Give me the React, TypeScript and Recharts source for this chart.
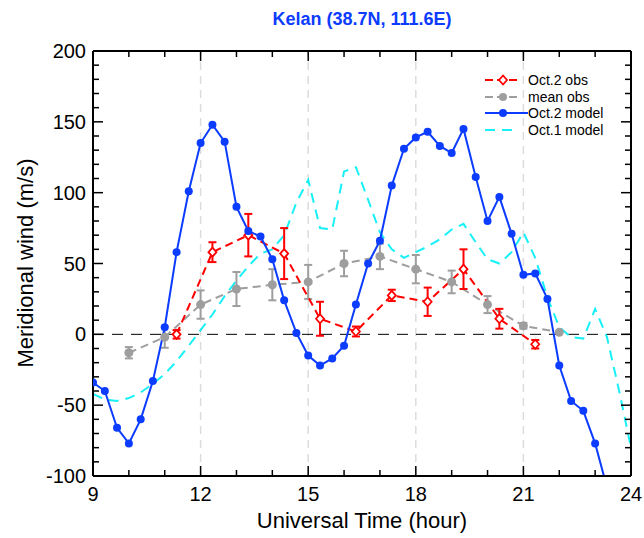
import React from 'react';
import { LineChart, Line, XAxis, YAxis, ReferenceLine, ErrorBar } from 'recharts';

// Oct.2 model (20-min output)
const modelHours = [9, 9.33, 9.67, 10, 10.33, 10.67, 11, 11.33, 11.67, 12, 12.33, 12.67, 13, 13.33, 13.67, 14, 14.33, 14.67, 15, 15.33, 15.67, 16, 16.33, 16.67, 17, 17.33, 17.67, 18, 18.33, 18.67, 19, 19.33, 19.67, 20, 20.33, 20.67, 21, 21.33, 21.67, 22, 22.33, 22.67, 23, 23.33];
const oct2Model = [-34, -40, -66, -77, -60, -33, 5, 58, 101, 135, 148, 136, 90, 73, 69, 53, 24, 1, -15, -22, -17, -8, 21, 50, 66, 105, 131, 139, 143, 133, 128, 145, 111, 80, 97, 71, 42, 43, 25, -22, -47, -54, -77, -108];

// Oct.1 model
const oct1Hours = [9, 9.33, 9.67, 10, 10.33, 10.67, 11, 11.33, 11.67, 12, 12.33, 12.67, 13, 13.33, 13.67, 14, 14.33, 14.67, 15, 15.33, 15.67, 16, 16.33, 16.67, 17, 17.33, 17.67, 18, 18.33, 18.67, 19, 19.33, 19.67, 20, 20.33, 20.67, 21, 21.33, 21.67, 22, 22.33, 22.67, 23, 23.33, 23.67, 24];
const oct1Model = [-42, -46, -47, -45, -41, -35, -28, -19, -8, 3, 14, 27, 38, 48, 57, 60, 70, 93, 109, 75, 74, 115, 118, 95, 72, 60, 54, 58, 62, 67, 74, 78, 65, 53, 50, 58, 72, 54, 26, 5, -2, -3, 18, -2, -40, -80];

// Oct.2 observations
const obsHours = [11.33, 12.33, 13.33, 14.33, 15.33, 16.33, 17.33, 18.33, 19.33, 20.33, 21.33];
const oct2Obs = [0, 58, 70, 57, 11, 2, 27.5, 23, 46, 11, -7];
const oct2Err = [3, 7, 15, 18, 12, 3.5, 4, 10, 14, 7, 3];

// mean observations
const meanHours = [10, 11, 12, 13, 14, 15, 16, 17, 18, 19, 20, 21, 22];
const meanObs = [-13, -2, 21, 32, 35, 37, 50, 55, 46, 37, 21, 6, 1.5];
const meanErr = [4, 7.5, 10, 12, 11, 12, 9, 9, 10, 8, 6, 2, 0];

const xTicks = [9, 10, 11, 12, 13, 14, 15, 16, 17, 18, 19, 20, 21, 22, 23, 24];
const yTicks = [-100, -90, -80, -70, -60, -50, -40, -30, -20, -10, 0, 10, 20, 30, 40, 50, 60, 70, 80, 90, 100, 110, 120, 130, 140, 150, 160, 170, 180, 190, 200];
const gridHours = [12, 15, 18, 21];

const FONT = '"Liberation Sans", Arial, Helvetica, sans-serif';
const BLUE = '#0b3cff';
const RED = '#ff0000';
const GRAY = '#9e9e9e';
const CYAN = '#18f0f8';

const modelData = modelHours.map((t, i) => ({ t, v: oct2Model[i] }));
const oct1Data = oct1Hours.map((t, i) => ({ t, v: oct1Model[i] }));
const obsData = obsHours.map((t, i) => ({ t, v: oct2Obs[i], e: oct2Err[i] }));
const meanData = meanHours.map((t, i) => ({ t, v: meanObs[i], e: meanErr[i] }));

const BottomTick = (props: any) => {
  const { x, y, payload } = props;
  const major = payload.value % 3 === 0;
  return (
    <g>
      <line x1={x} y1={y} x2={x} y2={y - (major ? 10 : 6)} stroke="#000" strokeWidth={1.5} />
      {major && (
        <text x={x} y={y + 25} textAnchor="middle" fontSize={20} fontFamily={FONT} fill="#000">{payload.value}</text>
      )}
    </g>
  );
};

const TopTick = (props: any) => {
  const { x, y, payload } = props;
  const major = payload.value % 3 === 0;
  return <line x1={x} y1={y} x2={x} y2={y + (major ? 10 : 6)} stroke="#000" strokeWidth={1.5} />;
};

const LeftTick = (props: any) => {
  const { x, y, payload } = props;
  const major = payload.value % 50 === 0;
  return (
    <g>
      <line x1={x} y1={y} x2={x + (major ? 10 : 6)} y2={y} stroke="#000" strokeWidth={1.5} />
      {major && (
        <text x={x - 7} y={y + 7} textAnchor="end" fontSize={20} fontFamily={FONT} fill="#000">{payload.value}</text>
      )}
    </g>
  );
};

const RightTick = (props: any) => {
  const { x, y, payload } = props;
  const major = payload.value % 50 === 0;
  return <line x1={x} y1={y} x2={x - (major ? 10 : 6)} y2={y} stroke="#000" strokeWidth={1.5} />;
};

const Diamond = (props: any) => {
  const { cx, cy, index } = props;
  if (cx == null || cy == null) return <g key={`d-${index}`} />;
  return (
    <path key={`d-${index}`} d={`M${cx},${cy - 4.5}L${cx + 4},${cy}L${cx},${cy + 4.5}L${cx - 4},${cy}Z`}
      fill="#fff" stroke={RED} strokeWidth={1.8} />
  );
};

const legendRows = [
  { name: 'Oct.2 obs', color: RED, dash: '8 4', marker: 'diamond' },
  { name: 'mean obs', color: GRAY, dash: '8 4', marker: 'circle' },
  { name: 'Oct.2 model', color: BLUE, dash: undefined, marker: 'circle' },
  { name: 'Oct.1 model', color: CYAN, dash: '10 7', marker: 'none' },
];

const LegendBox = () => (
  <div style={{ position: 'absolute', left: 484, top: 72, fontFamily: FONT, fontSize: 14 }}>
    {legendRows.map((r) => (
      <div key={r.name} style={{ display: 'flex', alignItems: 'center', height: 16.5 }}>
        <svg width={44} height={16}>
          <line x1={1} y1={8} x2={r.marker === 'circle' && !r.dash ? 44 : 34} y2={8} stroke={r.color} strokeWidth={2} strokeDasharray={r.dash} />
          {r.marker === 'circle' && <circle cx={19} cy={8} r={4} fill={r.color} />}
          {r.marker === 'diamond' && (
            <path d="M19,3.5L23,8L19,12.5L15,8Z" fill="#fff" stroke={r.color} strokeWidth={1.8} />
          )}
        </svg>
        <span style={{ color: '#000', lineHeight: '16px' }}>{r.name}</span>
      </div>
    ))}
  </div>
);

export default function App() {
  return (
    <div style={{ position: 'absolute', left: 0, top: 0, width: 644, height: 538, background: '#fff', fontFamily: FONT }}>
      <div style={{ position: 'absolute', left: 93, width: 538, top: 9, textAlign: 'center', color: BLUE, fontWeight: 'bold', fontSize: 18 }}>
        Kelan (38.7N, 111.6E)
      </div>
      <LineChart width={644} height={538} margin={{ top: 41, right: 3, bottom: 22, left: 33 }}>
        <XAxis xAxisId="b" type="number" dataKey="t" domain={[9, 24]} ticks={xTicks} interval={0}
          allowDataOverflow orientation="bottom" height={40} tickSize={0} tickMargin={0} tickLine={false}
          axisLine={{ stroke: '#000', strokeWidth: 2 }} tick={<BottomTick />} />
        <XAxis xAxisId="t" type="number" dataKey="t" domain={[9, 24]} ticks={xTicks} interval={0}
          allowDataOverflow orientation="top" height={10} tickSize={0} tickMargin={0} tickLine={false}
          axisLine={{ stroke: '#000', strokeWidth: 2 }} tick={<TopTick />} />
        <YAxis yAxisId="l" type="number" domain={[-100, 200]} ticks={yTicks} interval={0}
          allowDataOverflow orientation="left" width={60} tickSize={0} tickMargin={0} tickLine={false}
          axisLine={{ stroke: '#000', strokeWidth: 2 }} tick={<LeftTick />} />
        <YAxis yAxisId="r" type="number" domain={[-100, 200]} ticks={yTicks} interval={0}
          allowDataOverflow orientation="right" width={10} tickSize={0} tickMargin={0} tickLine={false}
          axisLine={{ stroke: '#000', strokeWidth: 2 }} tick={<RightTick />} />

        {gridHours.map((h) => (
          <ReferenceLine key={h} xAxisId="b" yAxisId="l" x={h} stroke="#dcdcdc" strokeWidth={1.5} strokeDasharray="8 6" />
        ))}
        <ReferenceLine xAxisId="b" yAxisId="l" y={0} stroke="#000" strokeWidth={1} strokeDasharray="11 8" />

        <Line xAxisId="b" yAxisId="l" data={oct1Data} dataKey="v" stroke={CYAN} strokeWidth={2}
          strokeDasharray="10 7" dot={false} isAnimationActive={false} />
        <Line xAxisId="b" yAxisId="l" data={meanData} dataKey="v" stroke={GRAY} strokeWidth={2}
          strokeDasharray="8 5" dot={{ r: 4.5, fill: GRAY, stroke: 'none' }} isAnimationActive={false}>
          <ErrorBar dataKey="e" direction="y" width={4} stroke={GRAY} strokeWidth={2} />
        </Line>
        <Line xAxisId="b" yAxisId="l" data={obsData} dataKey="v" stroke={RED} strokeWidth={2}
          strokeDasharray="8 5" dot={<Diamond />} isAnimationActive={false}>
          <ErrorBar dataKey="e" direction="y" width={4} stroke={RED} strokeWidth={2} />
        </Line>
        <Line xAxisId="b" yAxisId="l" data={modelData} dataKey="v" stroke={BLUE} strokeWidth={2}
          dot={{ r: 4, fill: BLUE, stroke: 'none' }} isAnimationActive={false} />
      </LineChart>
      <LegendBox />
      <div style={{ position: 'absolute', left: 93, width: 538, top: 508, textAlign: 'center', fontSize: 22, color: '#000' }}>
        Universal Time (hour)
      </div>
      <div style={{ position: 'absolute', left: 26, top: 263, transform: 'translate(-50%, -50%) rotate(-90deg)', whiteSpace: 'nowrap', fontSize: 22, color: '#000' }}>
        Meridional wind (m/s)
      </div>
    </div>
  );
}
